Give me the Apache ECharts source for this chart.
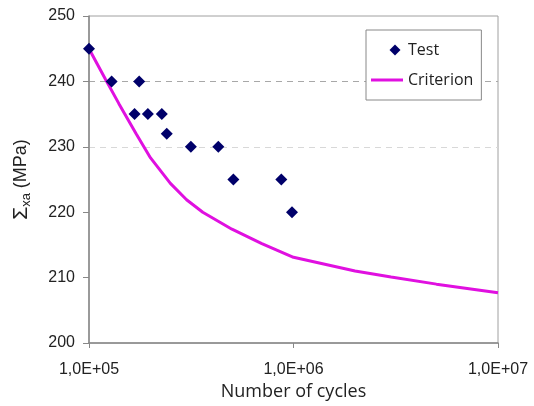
<!DOCTYPE html>
<html>
<head>
<meta charset="utf-8">
<script src="https://cdn.jsdelivr.net/npm/echarts@6/dist/echarts.min.js"></script>
<style>html,body{margin:0;padding:0;background:#fff;}#c{width:534px;height:406px;}</style>
</head>
<body>
<div id="c"></div>
<script>
// Test data (cycles, stress amplitude MPa)
const testCycles = [1.0e5, 1.29e5, 1.76e5, 1.67e5, 1.94e5, 2.27e5, 2.40e5, 3.15e5, 4.29e5, 5.08e5, 8.72e5, 9.83e5];
const testStress = [245, 240, 240, 235, 235, 235, 232, 230, 230, 225, 225, 220];
// Criterion curve
const critCycles = [1.0e5, 1.2e5, 1.4e5, 1.7e5, 2.0e5, 2.5e5, 3.0e5, 3.6e5, 5.0e5, 7.0e5, 1.0e6, 2.0e6, 3.0e6, 5.0e6, 1.0e7];
const critStress = [245, 240.4, 236.6, 232.0, 228.3, 224.4, 221.9, 220.0, 217.4, 215.2, 213.1, 211.0, 210.1, 209.0, 207.7];
// Tick labels
const xTickLabels = ['1,0E+05', '1,0E+06', '1,0E+07'];
const yTickLabels = ['200', '210', '220', '230', '240', '250'];

const tickFont = "'Liberation Sans', Arial, sans-serif";
const textFont = "'Open Sans', 'Noto Sans', sans-serif";

const chart = echarts.init(document.getElementById('c'), null, {renderer: 'canvas'});
chart.setOption({
  backgroundColor: '#fff',
  animation: false,
  grid: {left: 89, top: 16, right: 36, bottom: 63, show: true, borderColor: '#a0a0a0', borderWidth: 1},
  legend: {
    orient: 'vertical', left: 366, top: 30,
    backgroundColor: '#fff', borderColor: '#888', borderWidth: 1,
    padding: [9, 8, 9, 5], itemGap: 8, itemWidth: 32, itemHeight: 11,
    textStyle: {fontFamily: textFont, fontSize: 16, color: '#222', lineHeight: 22},
    data: [
      {name: 'Test', icon: 'path://M0,0 M32,11 M24,0 L29.5,5.5 L24,11 L18.5,5.5 Z'},
      {name: 'Criterion', icon: 'path://M0,0 M32,11 M0,4 L32,4 L32,7 L0,7 Z'}
    ]
  },
  xAxis: {
    type: 'log', logBase: 10, min: 1e5, max: 1e7,
    name: 'Number of cycles', nameLocation: 'middle', nameGap: 40,
    nameTextStyle: {fontFamily: textFont, fontSize: 18, color: '#222'},
    axisLine: {lineStyle: {color: '#888', width: 1.5}},
    axisTick: {show: true, inside: false, length: 5, lineStyle: {color: '#888'}},
    minorTick: {show: false},
    splitLine: {show: false},
    axisLabel: {
      margin: 19, fontFamily: tickFont, fontSize: 16, color: '#222',
      formatter: function (v) { return xTickLabels[Math.round(Math.log10(v)) - 5] || ''; }
    }
  },
  yAxis: {
    type: 'value', min: 200, max: 250, interval: 10,
    name: '{g|Σ}{s|xa}{a| (MPa)}', nameLocation: 'middle', nameGap: 56, nameRotate: 90,
    nameTextStyle: {
      fontFamily: tickFont, color: '#222',
      rich: {
        g: {fontFamily: tickFont, fontSize: 21, color: '#222', lineHeight: 24},
        a: {fontFamily: tickFont, fontSize: 18, color: '#222', lineHeight: 24},
        s: {fontFamily: tickFont, fontSize: 13, color: '#222', lineHeight: 24, verticalAlign: 'bottom'}
      }
    },
    axisLine: {show: true, lineStyle: {color: '#888', width: 1.5}},
    axisTick: {show: true, inside: false, length: 6, lineStyle: {color: '#888'}},
    axisLabel: {
      margin: 14, fontFamily: tickFont, fontSize: 16, color: '#222',
      formatter: function (v) { return yTickLabels[Math.round((v - 200) / 10)]; }
    },
    splitLine: {show: true, lineStyle: {type: [6, 5], width: 1,
      color: ['rgba(0,0,0,0)', 'rgba(0,0,0,0)', 'rgba(0,0,0,0)', '#d8d8d8', '#a8a8a8', 'rgba(0,0,0,0)']}}
  },
  series: [
    {
      name: 'Criterion', type: 'line', smooth: false, showSymbol: false, symbol: 'none',
      lineStyle: {color: '#e010e0', width: 3}, itemStyle: {color: '#e010e0'},
      data: critCycles.map((c, i) => [c, critStress[i]]), z: 2
    },
    {
      name: 'Test', type: 'scatter', symbol: 'diamond', symbolSize: 12,
      itemStyle: {color: '#00006a', opacity: 1},
      data: testCycles.map((c, i) => [c, testStress[i]]), z: 3
    }
  ]
});
</script>
</body>
</html>
